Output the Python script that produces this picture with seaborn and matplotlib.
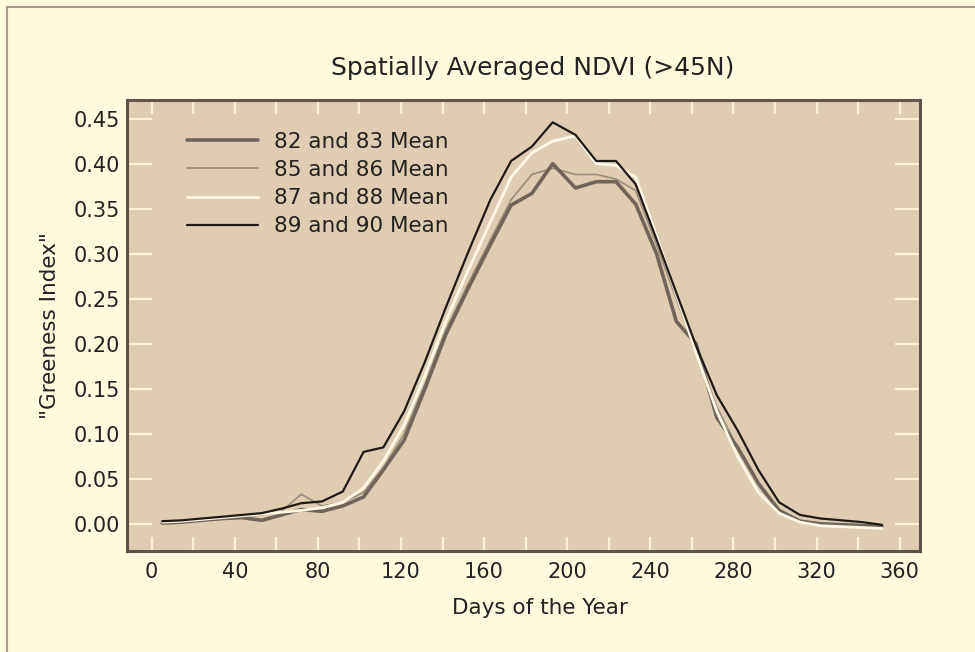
import numpy as np
import pandas as pd
import matplotlib
matplotlib.use("Agg")
import matplotlib.pyplot as plt
from matplotlib.lines import Line2D
from matplotlib.ticker import MultipleLocator
import seaborn as sns

# day-of-year of each composite
days = [5, 14.5, 24, 34, 43.5, 53, 62.5, 72, 82, 92, 102, 111.5,
        121.5, 131.5, 141.5, 152, 163, 173, 183, 193, 204, 214, 223.5, 233,
        243, 252.5, 262, 272, 282, 292, 302, 312, 322, 332, 342, 351.5]

ndvi_82_83 = [0.001, 0.002, 0.004, 0.006, 0.007, 0.004, 0.010, 0.016, 0.014, 0.020, 0.030, 0.060,
              0.093, 0.150, 0.210, 0.260, 0.310, 0.354, 0.367, 0.400, 0.373, 0.380, 0.380, 0.355,
              0.300, 0.225, 0.200, 0.118, 0.085, 0.045, 0.015, 0.003, 0.000, -0.001, -0.002, -0.002]

ndvi_85_86 = [0.002, 0.003, 0.005, 0.007, 0.008, 0.010, 0.014, 0.033, 0.020, 0.024, 0.035, 0.062,
              0.100, 0.155, 0.215, 0.265, 0.315, 0.360, 0.388, 0.395, 0.388, 0.388, 0.383, 0.370,
              0.310, 0.250, 0.190, 0.130, 0.085, 0.045, 0.015, 0.004, 0.001, 0.000, -0.001, -0.002]

ndvi_87_88 = [0.002, 0.003, 0.005, 0.007, 0.009, 0.011, 0.013, 0.015, 0.018, 0.024, 0.040, 0.070,
              0.110, 0.165, 0.225, 0.280, 0.335, 0.385, 0.412, 0.425, 0.431, 0.400, 0.398, 0.385,
              0.320, 0.255, 0.190, 0.125, 0.075, 0.035, 0.012, 0.002, -0.002, -0.003, -0.004, -0.005]

ndvi_89_90 = [0.003, 0.004, 0.006, 0.008, 0.010, 0.012, 0.017, 0.023, 0.025, 0.036, 0.080, 0.085,
              0.125, 0.180, 0.240, 0.300, 0.360, 0.403, 0.419, 0.446, 0.432, 0.403, 0.403, 0.377,
              0.316, 0.257, 0.198, 0.143, 0.104, 0.060, 0.024, 0.010, 0.006, 0.004, 0.002, -0.001]

labels = ["82 and 83 Mean", "85 and 86 Mean", "87 and 88 Mean", "89 and 90 Mean"]

fig_bg = "#fffadc"
ax_bg = "#dfcdb2"
tick_col = "#fff3d2"
txt = "#222222"

sns.set_style("ticks")
plt.rcParams["font.family"] = ["DejaVu Sans"]

fig = plt.figure(figsize=(9.75, 6.52), dpi=100, facecolor=fig_bg)
ax = fig.add_axes([0.130, 0.155, 0.814, 0.692])
ax.set_facecolor(ax_bg)

series = {
    labels[1]: (ndvi_85_86, "#9a8c7c", 1.2),
    labels[0]: (ndvi_82_83, "#6f655a", 2.6),
    labels[2]: (ndvi_87_88, "#fff8e4", 2.0),
    labels[3]: (ndvi_89_90, "#1e1a16", 1.6),
}
for name, (vals, col, lw) in series.items():
    df = pd.DataFrame({"day": days, "ndvi": vals})
    sns.lineplot(data=df, x="day", y="ndvi", ax=ax, color=col, linewidth=lw,
                 label=name, legend=False)

ax.set_xlim(-12, 370)
ax.set_ylim(-0.03, 0.471)
ax.xaxis.set_major_locator(MultipleLocator(40))
ax.xaxis.set_minor_locator(MultipleLocator(20))
ax.yaxis.set_major_locator(MultipleLocator(0.05))
ax.yaxis.set_major_formatter(matplotlib.ticker.FormatStrFormatter("%.2f"))

ax.tick_params(axis="x", which="both", direction="in", length=10, width=1.6,
               color=tick_col, top=True, bottom=True, labelsize=15, pad=8,
               labelcolor=txt)
ax.tick_params(axis="y", which="both", direction="in", length=18, width=1.6,
               color=tick_col, left=True, right=True, labelsize=15, pad=5,
               labelcolor=txt)

for sp in ax.spines.values():
    sp.set_color("#5e5448")
    sp.set_linewidth(2.2)
    sp.set_visible(True)

ax.set_xlabel("Days of the Year", fontsize=15.5, color=txt, labelpad=12)
ax.xaxis.set_label_coords(0.52, -0.105)
ax.set_ylabel('"Greeness Index"', fontsize=15.5, color=txt, labelpad=10)
ax.set_title("Spatially Averaged NDVI (>45N)", fontsize=18, color=txt, pad=18, x=0.511)

handles, hl = ax.get_legend_handles_labels()
order = [hl.index(l) for l in labels]
leg = ax.legend([handles[i] for i in order], [hl[i] for i in order],
                loc="upper left", bbox_to_anchor=(0.052, 0.972), frameon=False,
                fontsize=15.5, handlelength=3.3, handletextpad=0.7, labelspacing=0.38)
for t in leg.get_texts():
    t.set_color(txt)

# thin frame on the left and top of the figure
fig.add_artist(Line2D([0.007, 0.007], [0.0, 0.989], color="#a89a86", lw=1.5,
                      transform=fig.transFigure))
fig.add_artist(Line2D([0.007, 1.0], [0.989, 0.989], color="#a89a86", lw=1.5,
                      transform=fig.transFigure))

fig.savefig("out.png", dpi=100, facecolor=fig_bg)
